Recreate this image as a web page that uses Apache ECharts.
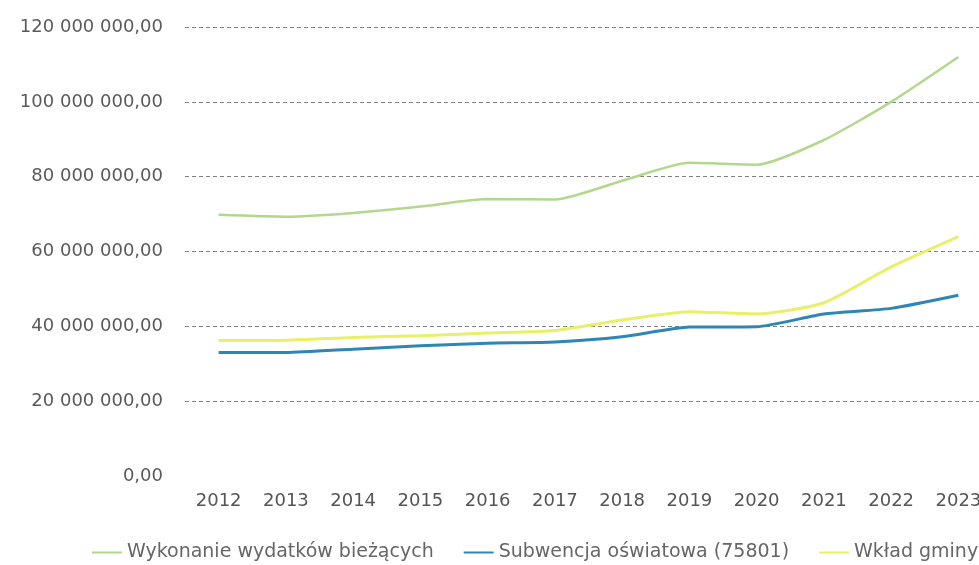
<!DOCTYPE html>
<html>
<head>
<meta charset="utf-8">
<script src="https://cdn.jsdelivr.net/npm/echarts@6/dist/echarts.min.js"></script>
<style>
html,body{margin:0;padding:0;background:#fff;}
#chart{width:979px;height:565px;}
</style>
</head>
<body>
<div id="chart"></div>
<script>
const years = ['2012','2013','2014','2015','2016','2017','2018','2019','2020','2021','2022','2023'];
const wykonanie = [69.8e6, 69.3e6, 70.3e6, 72.0e6, 74.0e6, 73.9e6, 78.9e6, 83.7e6, 83.2e6, 89.8e6, 100.0e6, 112.0e6];
const subwencja = [33.0e6, 33.0e6, 33.9e6, 34.8e6, 35.5e6, 35.8e6, 37.2e6, 39.8e6, 39.9e6, 43.3e6, 44.8e6, 48.3e6];
const wklad = [36.2e6, 36.3e6, 37.0e6, 37.5e6, 38.2e6, 38.9e6, 41.7e6, 43.9e6, 43.3e6, 46.3e6, 55.9e6, 64.0e6];
const seriesNames = ['Wykonanie wydatków bieżących', 'Subwencja oświatowa (75801)', 'Wkład gminy'];

function fmt(v){
  const s = Math.round(v).toString().replace(/\B(?=(\d{3})+(?!\d))/g, ' ');
  return s + ',00';
}

const chart = echarts.init(document.getElementById('chart'));
const font = 'DejaVu Sans';
chart.setOption({
  backgroundColor: '#fff',
  animation: false,
  grid: {left: 185, top: 27, width: 807, height: 449, containLabel: false, outerBoundsMode: 'none'},
  legend: {
    left: 87, top: 538, width: 1000,
    itemWidth: 30, itemHeight: 12, itemGap: 30,
    textStyle: {fontFamily: font, fontSize: 19, color: '#666'},
    data: seriesNames.map(n => ({name: n, icon: 'path://M0,5L30,5L30,7L0,7Z'}))
  },
  xAxis: {
    type: 'category',
    data: years,
    boundaryGap: true,
    z: 5,
    axisLine: {show: true, lineStyle: {color: '#fff', width: 3}},
    axisTick: {show: false},
    axisLabel: {fontFamily: font, fontSize: 18, color: '#555', margin: 16}
  },
  yAxis: {
    type: 'value',
    min: 0, max: 120e6, interval: 20e6,
    axisLine: {show: false},
    axisTick: {show: false},
    axisLabel: {fontFamily: font, fontSize: 18, color: '#5a5a5a', margin: 22, formatter: fmt},
    splitLine: {show: true, lineStyle: {color: '#808080', width: 1, type: [4, 3]}}
  },
  series: [
    {name: seriesNames[0], type: 'line', data: wykonanie, symbol: 'none', smooth: 0.2,
      lineStyle: {color: '#b3d78d', width: 2.5}, itemStyle: {color: '#b3d78d'}},
    {name: seriesNames[1], type: 'line', data: subwencja, symbol: 'none', smooth: 0.2,
      lineStyle: {color: '#2f86b6', width: 3}, itemStyle: {color: '#2f86b6'}},
    {name: seriesNames[2], type: 'line', data: wklad, symbol: 'none', smooth: 0.2,
      lineStyle: {color: '#e8f06a', width: 3}, itemStyle: {color: '#e8f06a'}}
  ]
});
</script>
</body>
</html>
